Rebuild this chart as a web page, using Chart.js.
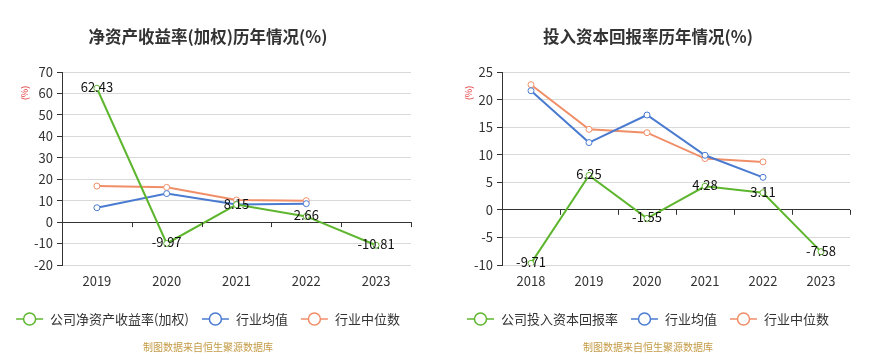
<!DOCTYPE html>
<html>
<head>
<meta charset="utf-8">
<script src="https://cdn.jsdelivr.net/npm/chart.js@4.4.0/dist/chart.umd.min.js"></script>
<style>
    body { margin: 0; background: #fff; }
    #wrap { display: flex; width: 872px; height: 361px; }
    canvas { display: block; }
</style>
</head>
<body>
<div id="wrap">
    <canvas id="roeChart" width="436" height="361"></canvas>
    <canvas id="roicChart" width="436" height="361"></canvas>
</div>
<script>
// left chart: 净资产收益率(加权)
let roeYears = ['2019', '2020', '2021', '2022', '2023'];
let roeCompany = [62.43, -9.97, 8.15, 2.66, -10.81];
let roeIndustryAvg = [6.7, 13.3, 8.2, 8.6, null];
let roeIndustryMedian = [16.8, 16.2, 10.3, 10.0, null];

// right chart: 投入资本回报率
let roicYears = ['2018', '2019', '2020', '2021', '2022', '2023'];
let roicCompany = [-9.71, 6.25, -1.55, 4.28, 3.11, -7.58];
let roicIndustryAvg = [21.6, 12.2, 17.2, 9.9, 5.9, null];
let roicIndustryMedian = [22.7, 14.6, 14.0, 9.3, 8.7, null];

const FONT = '"Noto Sans CJK SC", "Microsoft YaHei", sans-serif';
const GREEN = '#5eb62f';
const BLUE = '#4a7bd0';
const ORANGE = '#f08e68';

Chart.defaults.font.family = FONT;
Chart.defaults.color = '#333';

// draws title, (%) unit, legend, footer, value labels and the x ticks on the zero line
let decorPlugin = {
    id: 'decor',
    afterDatasetsDraw(chart) {
        let ctx = chart.ctx;

        // value labels of the company series
        let meta = chart.getDatasetMeta(0);
        ctx.save();
        ctx.font = '13px ' + FONT;
        ctx.fillStyle = '#111';
        ctx.textAlign = 'center';
        ctx.textBaseline = 'middle';
        meta.data.forEach(function (pt, i) {
            let v = chart.data.datasets[0].data[i];
            if (v == null) return;
            ctx.fillText(v.toFixed(2), pt.x, pt.y - 1);
        });
        ctx.restore();
    },
    afterDraw(chart) {
        let ctx = chart.ctx;
        let opts = chart.options.plugins.decor;
        let x = chart.scales.x;
        let y = chart.scales.y;

        // small ticks hanging below the zero line
        let zeroY = y.getPixelForValue(0);
        ctx.save();
        ctx.strokeStyle = '#333';
        ctx.lineWidth = 1;
        ctx.beginPath();
        for (let i = 1; i <= chart.data.labels.length; i++) {
            let px = Math.round(x.getPixelForValue(i - 0.5)) + 0.5;
            ctx.moveTo(px, zeroY);
            ctx.lineTo(px, zeroY + 5);
        }
        ctx.stroke();
        ctx.restore();

        // title
        ctx.save();
        ctx.font = 'bold 16.5px ' + FONT;
        ctx.fillStyle = '#333';
        ctx.textAlign = 'center';
        ctx.textBaseline = 'middle';
        ctx.fillText(opts.title, opts.centerX, 37);
        ctx.restore();

        // unit
        ctx.save();
        ctx.translate(opts.unitX, 93);
        ctx.rotate(-Math.PI / 2);
        ctx.font = '9px ' + FONT;
        ctx.fillStyle = '#e03a3a';
        ctx.textAlign = 'center';
        ctx.textBaseline = 'middle';
        ctx.fillText('(%)', 0, 0);
        ctx.restore();

        // legend
        ctx.save();
        ctx.font = '13px ' + FONT;
        let items = chart.data.datasets.map(function (ds) {
            return { label: ds.label, color: ds.borderColor, w: ctx.measureText(ds.label).width };
        });
        let total = 0;
        items.forEach(function (it, i) {
            total += 27 + 7 + it.w + (i < items.length - 1 ? 13 : 0);
        });
        let lx = opts.centerX - total / 2;
        let ly = 319;
        items.forEach(function (it) {
            ctx.strokeStyle = it.color;
            ctx.lineWidth = 1.5;
            ctx.beginPath();
            ctx.moveTo(lx, ly);
            ctx.lineTo(lx + 27, ly);
            ctx.stroke();
            ctx.beginPath();
            ctx.arc(lx + 13.5, ly, 6, 0, Math.PI * 2);
            ctx.fillStyle = '#fff';
            ctx.fill();
            ctx.stroke();
            ctx.fillStyle = '#333';
            ctx.textAlign = 'left';
            ctx.textBaseline = 'middle';
            ctx.fillText(it.label, lx + 34, ly);
            lx += 27 + 7 + it.w + 13;
        });
        ctx.restore();

        // footer
        ctx.save();
        ctx.font = '10px ' + FONT;
        ctx.fillStyle = '#c49a45';
        ctx.textAlign = 'center';
        ctx.textBaseline = 'middle';
        ctx.fillText('制图数据来自恒生聚源数据库', opts.centerX, 347);
        ctx.restore();
    }
};

function makeDataset(label, data, color) {
    return {
        label: label,
        data: data,
        borderColor: color,
        backgroundColor: color,
        borderWidth: 2,
        pointRadius: 3,
        pointBorderWidth: 1,
        pointBackgroundColor: '#fff',
        pointBorderColor: color,
        tension: 0,
        spanGaps: false
    };
}

function makeChart(canvas, cfg) {
    return new Chart(canvas, {
        type: 'line',
        data: {
            labels: cfg.labels,
            datasets: [
                makeDataset(cfg.companyLabel, cfg.company, GREEN),
                makeDataset('行业均值', cfg.avg, BLUE),
                makeDataset('行业中位数', cfg.median, ORANGE)
            ]
        },
        options: {
            responsive: false,
            animation: false,
            layout: { padding: { top: 72, right: cfg.padRight, left: 0, bottom: 0 } },
            plugins: {
                legend: { display: false },
                title: { display: false },
                tooltip: { enabled: false },
                decor: { title: cfg.title, centerX: cfg.centerX, unitX: cfg.unitX }
            },
            scales: {
                x: {
                    offset: true,
                    grid: { display: false, drawTicks: false },
                    border: { display: false },
                    ticks: { padding: 8, font: { size: 13 }, color: '#333' },
                    afterFit: function (scale) { scale.height = 96; }
                },
                y: {
                    min: cfg.min,
                    max: cfg.max,
                    ticks: { stepSize: cfg.step, padding: 4, font: { size: 13 }, color: '#333' },
                    grid: {
                        color: function (c) { return c.tick && c.tick.value === 0 ? '#333' : '#d9d9d9'; },
                        tickColor: '#333',
                        tickLength: 5
                    },
                    border: { color: '#333', width: 1 },
                    afterFit: function (scale) { scale.width = cfg.yWidth; }
                }
            }
        },
        plugins: [decorPlugin]
    });
}

let roeChart = makeChart(document.getElementById('roeChart'), {
    labels: roeYears,
    company: roeCompany,
    avg: roeIndustryAvg,
    median: roeIndustryMedian,
    companyLabel: '公司净资产收益率(加权)',
    title: '净资产收益率(加权)历年情况(%)',
    min: -20, max: 70, step: 10,
    yWidth: 62, padRight: 25,
    centerX: 208, unitX: 25
});

let roicChart = makeChart(document.getElementById('roicChart'), {
    labels: roicYears,
    company: roicCompany,
    avg: roicIndustryAvg,
    median: roicIndustryMedian,
    companyLabel: '公司投入资本回报率',
    title: '投入资本回报率历年情况(%)',
    min: -10, max: 25, step: 5,
    yWidth: 66, padRight: 22,
    centerX: 212, unitX: 33
});
</script>
</body>
</html>
